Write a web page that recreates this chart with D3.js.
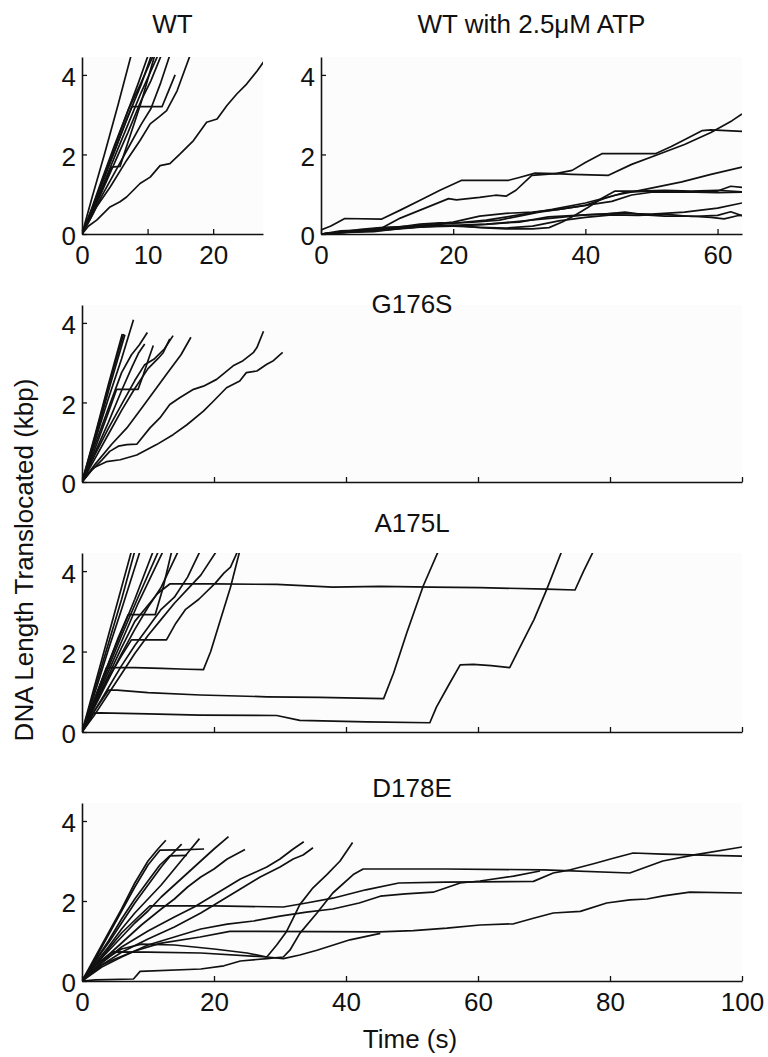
<!DOCTYPE html>
<html>
<head>
<meta charset="utf-8">
<script src="https://cdn.jsdelivr.net/npm/d3@7"></script>
<style>
  body { margin: 0; background: #fff; }
  text { font-family: "Liberation Sans", Arial, sans-serif; fill: #111; }
</style>
</head>
<body>
<div id="chart"></div>
<script>
// Each trace is a list of [time (s), DNA translocated (kbp)]

const wtTraces = [
  [[0,0],[1.5,0.9],[3.5,2.05],[5.5,3.25],[7.5,4.5]],
  [[0,0],[1.5,0.62],[3,1.3],[5,2.2],[7,3.1],[8.6,3.8],[10.1,4.5]],
  [[0,0],[1.5,0.6],[3,1.25],[5,2.1],[7,2.95],[9,3.75],[10.6,4.5]],
  [[0,0],[1.5,0.55],[3,1.1],[4.5,1.68],[5.8,1.7],[7,2.3],[9,3.3],[11.1,4.5]],
  [[0,0],[1.5,0.6],[3,1.25],[5,2.1],[6.5,2.75],[7.6,3.2],[12.2,3.2],[13.2,3.6],[14.2,4.0]],
  [[0,0],[1.5,0.55],[3,1.15],[5,1.95],[7,2.75],[9,3.55],[11.6,4.5]],
  [[0,0],[1.5,0.5],[3,1.05],[5,1.8],[7,2.55],[9,3.35],[10.5,3.85],[12.1,4.5]],
  [[0,0],[1.5,0.45],[3,0.95],[5,1.55],[7,2.15],[9,2.75],[10.5,3.15],[12,3.8],[13.4,4.5]],
  [[0,0],[1,0.3],[2.2,0.68],[4.3,1.18],[6.8,1.85],[8.85,2.35],[10.4,2.77],[11.8,2.95],[12.9,3.1],[14.5,3.6],[16.5,4.5]],
  [[0,0],[1,0.2],[2.24,0.35],[4.27,0.68],[5.8,0.81],[6.8,0.93],[8.85,1.27],[10.4,1.43],[11.9,1.72],[13.4,1.77],[15,2.02],[17,2.35],[19,2.81],[20.6,2.89],[22.1,3.23],[23.6,3.52],[25.1,3.77],[26.7,4.1],[27.7,4.33]],
  [[0,0],[1.5,0.65],[3,1.35],[5,2.25],[7,3.1],[9,3.8],[10.9,4.5]]
];

const wtAtpTraces = [
  [[0,0.1],[1.5,0.2],[3.6,0.39],[9.2,0.375],[12,0.6],[15,0.85],[18,1.1],[21.3,1.35],[28.4,1.35],[30,1.42],[32.4,1.53],[35.5,1.52],[38,1.6],[40,1.8],[42.5,2.02],[50.6,2.02],[53,2.2],[55,2.37],[57.7,2.6],[59,2.62],[63.7,2.58]],
  [[0,0],[3,0.08],[6,0.1],[9.2,0.15],[12,0.4],[15,0.6],[19.3,0.89],[20.5,0.86],[24,0.92],[26.4,0.975],[28,0.95],[29.5,1.1],[31.9,1.475],[35.5,1.52],[38,1.5],[43.5,1.475],[47,1.75],[51,2.0],[55,2.25],[59,2.55],[62.2,2.85],[63.7,3.02]],
  [[0,0],[4,0.06],[8,0.12],[12,0.16],[16,0.2],[20,0.22],[24,0.16],[28,0.13],[32,0.13],[34.5,0.16],[36.5,0.3],[38.5,0.48],[40.5,0.68],[42.5,0.9],[44.5,1.08],[48,1.08],[52,1.1],[56,1.08],[60,1.1],[63.7,1.06]],
  [[0,0],[5,0.06],[10,0.12],[15,0.2],[20,0.27],[25,0.35],[30,0.48],[35,0.62],[40,0.78],[44.5,0.975],[49.6,1.14],[54.6,1.31],[59,1.5],[63.7,1.68]],
  [[0,0],[5,0.08],[10,0.16],[15,0.22],[20,0.3],[24,0.45],[28,0.52],[32,0.55],[36,0.62],[40,0.72],[43,0.9],[46,1.05],[50,1.08],[55,1.05],[60,1.08],[62,1.2],[63.7,1.17]],
  [[0,0],[5,0.05],[10,0.1],[15,0.17],[20,0.22],[25,0.25],[30,0.3],[34.4,0.43],[40,0.48],[44.5,0.52],[50,0.5],[55,0.55],[60,0.65],[63.7,0.78]],
  [[0,0],[5,0.07],[10,0.12],[15,0.18],[20,0.2],[25,0.24],[30,0.32],[35,0.4],[40,0.48],[43,0.5],[46,0.55],[49,0.48],[52,0.45],[56,0.45],[59,0.42],[61,0.38],[63,0.46],[63.7,0.47]],
  [[0,0],[4,0.04],[8,0.06],[12,0.14],[16,0.2],[20,0.2],[24,0.17],[28,0.15],[32,0.2],[36,0.33],[40,0.42],[44,0.48],[48,0.47],[52,0.5],[56,0.44],[60,0.47],[62,0.56],[63.7,0.46]],
  [[0,0],[3,0.05],[6,0.12],[9,0.16],[12,0.18],[15,0.25],[18,0.28],[20,0.27],[23,0.3],[27,0.35],[30,0.45],[33,0.55],[36,0.62],[40,0.72],[44,0.82],[47,0.98],[50,1.05],[55,1.06],[60,1.04],[63.7,1.05]]
];

const g176sTraces = [
  [[0,0],[2,1.05],[4,2.1],[6,3.1],[7.8,4.08]],
  [[0,0],[2,1.2],[4,2.45],[6.1,3.72]],
  [[0,0],[2,1.15],[4,2.4],[6.3,3.72]],
  [[0,0],[2.2,1.2],[4.2,2.4],[6.5,3.7]],
  [[0,0],[2,0.95],[4,1.85],[6,2.75],[7.5,3.2],[8.7,3.45],[9.9,3.76]],
  [[0,0],[2,0.85],[4,1.75],[5.25,2.33],[8.5,2.33],[9.3,2.7],[10.1,3.1],[10.8,3.43]],
  [[0,0],[2,0.75],[4,1.5],[6,2.3],[7.6,2.9],[8.6,3.25],[9.5,3.47]],
  [[0,0],[2,0.7],[4,1.35],[6,1.95],[8,2.55],[9.5,2.95],[11,3.1],[12.5,3.35],[13.8,3.68]],
  [[0,0],[2,0.6],[4,1.2],[6,1.8],[8,2.35],[10,2.85],[11.5,3.1],[12.3,3.25],[13.3,3.6]],
  [[0,0],[2,0.45],[4.5,0.95],[6.8,1.36],[9,1.85],[11,2.3],[13,2.75],[15,3.2],[16.5,3.64]],
  [[0,0],[1.5,0.3],[3,0.55],[4.2,0.77],[5.5,0.9],[6.8,0.94],[8.3,0.95],[10.3,1.36],[11.8,1.61],[13.3,1.95],[14.8,2.12],[16.9,2.33],[18.4,2.41],[20.4,2.58],[22.9,2.92],[24.4,3.05],[26,3.26],[26.5,3.38],[27.5,3.79]],
  [[0,0],[1.7,0.35],[3.7,0.51],[5.8,0.56],[8.3,0.68],[11.3,0.94],[13.8,1.19],[15.9,1.44],[18.4,1.78],[19.9,2.03],[21.9,2.37],[23.9,2.54],[24.9,2.75],[26.5,2.79],[28,2.96],[29,3.05],[30.4,3.26]]
];

const a175lTraces = [
  [[0,0],[2,1.2],[4,2.4],[6,3.6],[7.5,4.5]],
  [[0,0],[2,1.0],[4,2.05],[6,3.05],[8.8,4.5]],
  [[0,0],[2,0.85],[4,1.7],[5.5,2.35],[7,2.92],[11.1,2.92],[12.3,3.6],[13.6,4.5]],
  [[0,0],[2,0.85],[4,1.7],[6,2.5],[8,3.3],[10.8,4.5]],
  [[0,0],[2,0.8],[4,1.6],[6,2.4],[8.5,3.35],[11.6,4.5]],
  [[0,0],[2,0.75],[4,1.5],[6,2.25],[8.5,3.2],[12.3,4.5]],
  [[0,0],[2,0.7],[4,1.4],[6,2.1],[8,2.75],[10,3.15],[11.5,3.45],[13.3,3.68],[20,3.68],[29.5,3.67],[38,3.6],[45.2,3.62],[53,3.6],[60.3,3.59],[70.4,3.55],[74.7,3.53],[76,4.0],[77.5,4.5]],
  [[0,0],[2,0.7],[4,1.35],[6,1.9],[7.5,2.29],[12.8,2.29],[14.2,2.7],[15.7,3.05],[17.7,3.3],[20.2,3.7],[21.5,3.95],[22.5,4.1],[23.6,4.5]],
  [[0,0],[2,0.65],[4,1.3],[6,1.95],[8,2.55],[10,3.1],[12,3.6],[14.6,4.5]],
  [[0,0],[2,0.55],[4,1.1],[6,1.65],[8,2.15],[10,2.6],[12,3.05],[14,3.35],[16,3.85],[17.9,4.5]],
  [[0,0],[2,0.45],[4,0.95],[6,1.45],[8,1.95],[10,2.4],[12,2.8],[14,3.2],[16,3.55],[18,3.9],[20.4,4.5]],
  [[0,0],[1.5,0.65],[3,1.3],[3.7,1.6],[8,1.6],[12,1.58],[16,1.56],[18.4,1.55],[19.5,2.0],[21,2.8],[22.5,3.6],[23.9,4.5]],
  [[0,0],[2,0.55],[4,1.04],[5.3,1.04],[10,0.98],[17.9,0.92],[28,0.875],[36,0.86],[45.7,0.83],[47.2,1.46],[49.2,2.46],[51.7,3.63],[54,4.5]],
  [[0,0],[1,0.25],[1.7,0.47],[2.7,0.475],[10,0.45],[17.9,0.42],[29.5,0.41],[33,0.29],[43.1,0.25],[52.7,0.23],[53.7,0.62],[55.5,1.15],[57.3,1.67],[59.3,1.68],[62,1.65],[64.8,1.6],[66.4,2.12],[68.5,2.8],[70.4,3.54],[72.7,4.5]],
  [[0,0],[2,1.1],[4,2.2],[6,3.3],[8,4.5]]
];

const d178eTraces = [
  [[0,0],[2,0.55],[4,1.15],[6,1.75],[8,2.35],[10,2.9],[11.8,3.27],[15,3.28],[18.5,3.3]],
  [[0,0],[2,0.6],[4,1.2],[6,1.8],[8,2.45],[10,3.0],[11.5,3.3],[12.7,3.52]],
  [[0,0],[2,0.5],[4,1.0],[6,1.55],[8,2.05],[10,2.5],[11.8,2.9],[13.3,3.13],[15.9,3.14]],
  [[0,0],[2,0.5],[4,0.95],[6,1.45],[8,1.95],[10,2.4],[12,2.85],[13.5,3.15],[15.1,3.42]],
  [[0,0],[2,0.45],[4,0.85],[6,1.3],[8,1.7],[10,2.05],[12,2.4],[14,2.8],[16,3.2],[17.8,3.56]],
  [[0,0],[2,0.4],[4,0.75],[6,1.1],[8,1.45],[10,1.75],[12,2.1],[14,2.4],[16,2.7],[18,3.0],[20,3.3],[22.2,3.61]],
  [[0,0],[3,0.5],[6,0.95],[9,1.4],[12,1.8],[14,2.05],[16,2.35],[18,2.6],[20,2.8],[22,3.05],[24.7,3.29]],
  [[0,0],[3,0.6],[6,1.2],[8.5,1.6],[10.3,1.88],[20,1.88],[30.5,1.85],[34,1.95],[38,2.07],[43,2.28],[48,2.45],[55,2.47],[68.4,2.49],[71.4,2.7],[74,2.78],[77.5,2.93],[80.5,3.07],[83.5,3.2],[88,3.17],[100,3.12]],
  [[0,0],[3,0.45],[6,0.85],[10,1.25],[14,1.6],[17,1.85],[20,2.15],[22,2.35],[24,2.55],[26,2.7],[28,2.85],[30,3.05],[32,3.3],[33.6,3.48]],
  [[0,0],[3,0.4],[6,0.72],[10,1.05],[14,1.35],[18,1.7],[21,2.0],[24,2.3],[27,2.6],[30,2.85],[32,3.05],[33.5,3.15],[35,3.33]],
  [[0,0],[3,0.35],[6,0.6],[10,0.9],[14,1.1],[18,1.3],[22,1.42],[26,1.5],[30,1.62],[34,1.72],[38,1.8],[42,1.95],[45.2,2.12],[49,2.18],[53.2,2.22],[57.3,2.45],[60.3,2.5],[65.4,2.62],[69.4,2.75]],
  [[0,0],[2,0.4],[4.7,0.73],[10,0.72],[18,0.7],[28,0.6],[29.5,0.9],[31,1.24],[32,1.57],[33,1.91],[35,2.33],[37.1,2.66],[39.1,3.0],[41,3.46]],
  [[0,0],[2,0.03],[7.8,0.05],[8.8,0.24],[18,0.3],[21.5,0.38],[24,0.5],[28,0.56],[30.5,0.6],[31.5,0.77],[33,1.19],[35.6,1.7],[38,2.2],[41.1,2.66],[42.6,2.8],[55,2.8],[70,2.78],[83,2.7],[88,3.0],[93,3.16],[100,3.35]],
  [[0,0],[3,0.5],[6,0.8],[9,0.92],[14,0.9],[20,0.8],[25,0.7],[28,0.6],[30.5,0.56],[33,0.65],[35.6,0.77],[40.6,1.03],[45.2,1.19]],
  [[0,0],[3,0.4],[5,0.55],[8,0.75],[11.8,0.94],[17.9,1.1],[22.4,1.24],[45,1.23],[50.2,1.26],[55.3,1.32],[60.3,1.4],[65.4,1.43],[68.4,1.57],[71.4,1.7],[75.5,1.74],[79.5,1.95],[83,2.03],[85.6,2.05],[88.1,2.13],[92.1,2.22],[100,2.2]]
];

const panelTitles = ['WT', 'WT with 2.5\u03bcM ATP', 'G176S', 'A175L', 'D178E'];
const xMaxes = [27.6, 63.7, 100, 100, 100];
const xTickSets = [[0, 10, 20], [0, 20, 40, 60], [0, 20, 40, 60, 80, 100], [0, 20, 40, 60, 80, 100], [0, 20, 40, 60, 80, 100]];
const yTicks = [0, 2, 4];
const yMax = 4.45;

// Layout of the five axes boxes (pixels)
const layout = [
  { left: 82, right: 263, top: 57, bottom: 234, titleY: 33, labels: true },
  { left: 321, right: 742, top: 57, bottom: 234, titleY: 33, labels: true },
  { left: 82, right: 742, top: 305, bottom: 482, titleY: 313, labels: false },
  { left: 82, right: 742, top: 553, bottom: 732, titleY: 532, labels: false },
  { left: 82, right: 742, top: 803, bottom: 981, titleY: 797, labels: true }
];
const traceSets = [wtTraces, wtAtpTraces, g176sTraces, a175lTraces, d178eTraces];

const width = 768;
const height = 1057;

const svg = d3.select('#chart')
  .append('svg')
  .attr('width', width)
  .attr('height', height);

layout.forEach((box, i) => {
  const x = d3.scaleLinear().domain([0, xMaxes[i]]).range([box.left, box.right]);
  const y = d3.scaleLinear().domain([0, yMax]).range([box.bottom, box.top]);

  // faint plot background
  svg.append('rect')
    .attr('x', box.left).attr('y', box.top)
    .attr('width', box.right - box.left).attr('height', box.bottom - box.top)
    .attr('fill', '#fcfcfc');

  svg.append('clipPath')
    .attr('id', `clip${i}`)
    .append('rect')
    .attr('x', box.left).attr('y', box.top)
    .attr('width', box.right - box.left).attr('height', box.bottom - box.top);

  const line = d3.line()
    .x((d) => x(d[0]))
    .y((d) => y(d[1]));

  svg.append('g')
    .attr('clip-path', `url(#clip${i})`)
    .selectAll('path')
    .data(traceSets[i])
    .enter()
    .append('path')
    .attr('d', line)
    .attr('fill', 'none')
    .attr('stroke', '#111')
    .attr('stroke-width', 1.7)
    .attr('stroke-linejoin', 'round');

  // x axis, ticks pointing inward
  const xAxis = d3.axisBottom(x)
    .tickValues(xTickSets[i])
    .tickSizeInner(-5)
    .tickSizeOuter(0)
    .tickPadding(12)
    .tickFormat(box.labels ? d3.format('d') : () => '');
  const gx = svg.append('g')
    .attr('transform', `translate(0,${box.bottom})`)
    .call(xAxis);

  // y axis
  const yAxis = d3.axisLeft(y)
    .tickValues(yTicks)
    .tickSizeInner(-5)
    .tickSizeOuter(0)
    .tickPadding(6)
    .tickFormat(d3.format('d'));
  const gy = svg.append('g')
    .attr('transform', `translate(${box.left},0)`)
    .call(yAxis);

  [gx, gy].forEach((g) => {
    g.select('.domain').attr('stroke', '#111').attr('stroke-width', 1.6);
    g.selectAll('.tick line').attr('stroke', '#111').attr('stroke-width', 1.3);
    g.selectAll('.tick text')
      .attr('font-size', 26)
      .attr('font-family', '"Liberation Sans", Arial, sans-serif')
      .attr('fill', '#111');
  });
  gy.selectAll('.tick text').attr('dy', '0.42em');

  // panel title
  svg.append('text')
    .attr('x', (box.left + box.right) / 2)
    .attr('y', box.titleY)
    .attr('text-anchor', 'middle')
    .attr('font-size', 26)
    .text(panelTitles[i]);
});

// shared axis labels
svg.append('text')
  .attr('x', 410)
  .attr('y', 1048)
  .attr('text-anchor', 'middle')
  .attr('font-size', 26)
  .text('Time (s)');

svg.append('text')
  .attr('transform', 'translate(33,560) rotate(-90)')
  .attr('text-anchor', 'middle')
  .attr('font-size', 26)
  .text('DNA Length Translocated (kbp)');
</script>
</body>
</html>
